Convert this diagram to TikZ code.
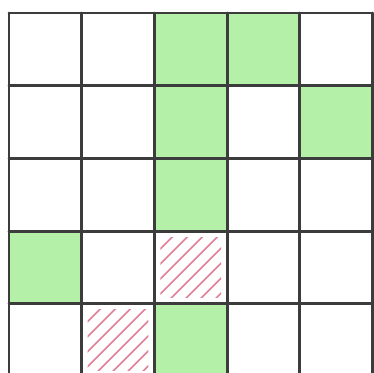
\documentclass[tikz,border=0pt]{standalone}
\usepackage{tikz}
\definecolor{cellgreen}{HTML}{B4F0A8}
\definecolor{gridgray}{HTML}{3C3C3C}
\definecolor{hatchred}{HTML}{E07F98}
\begin{document}
\begin{tikzpicture}[x=0.03cm,y=-0.03cm,
    gridline/.style={draw=gridgray, line width=2.4pt, line cap=round},
    hatchline/.style={draw=hatchred, line width=1.4pt}]
  \useasboundingbox (0,0) rectangle (374,372);
  \clip (0,0) rectangle (374,372);
  \fill[white] (0,0) rectangle (374,372);
  % green cells (column/row, counted from the top left)
  \foreach \c/\r in {2/0,3/0,2/1,4/1,2/2,0/3,2/4}{
    \fill[cellgreen] (9+\c*72.7,13+\r*72.7) rectangle ++(72.7,72.7);
  }
  % hatched cells
  \foreach \c/\r in {2/3,1/4}{
    \begin{scope}
      \clip (9+\c*72.7+6,13+\r*72.7+6) rectangle ++(60.7,60.7);
      \foreach \k in {0,...,9}{
        \draw[hatchline] (9+\c*72.7+\k*15-64,13+\r*72.7+72.7) -- ++(72.7,-72.7);
      }
    \end{scope}
  }
  % grid
  \foreach \i in {0,...,5}{
    \draw[gridline] (9+\i*72.7,13) -- (9+\i*72.7,390);
    \draw[gridline] (9,13+\i*72.7) -- (372.5,13+\i*72.7);
  }
\end{tikzpicture}
\end{document}
